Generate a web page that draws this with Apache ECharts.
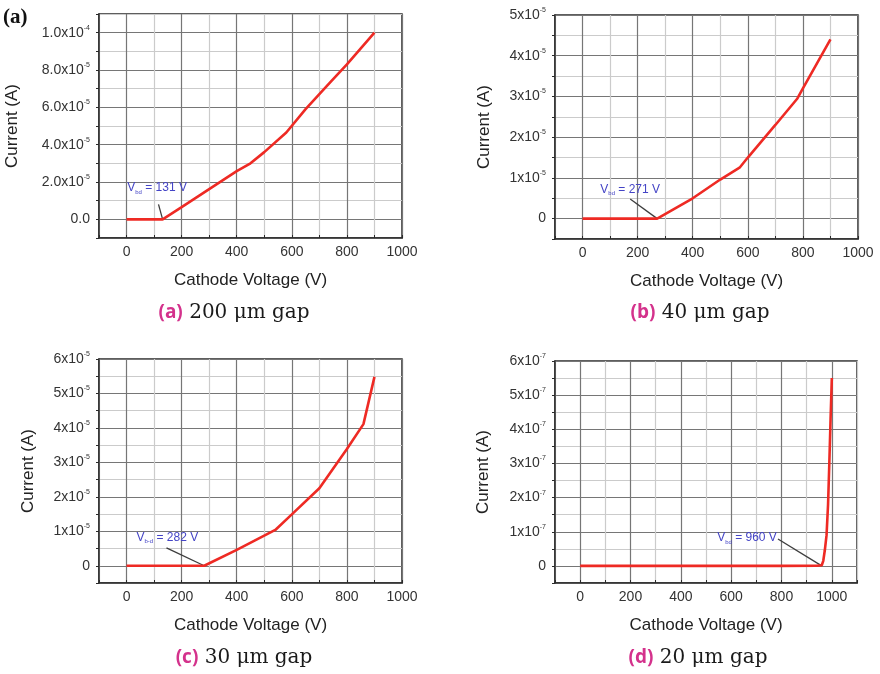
<!DOCTYPE html>
<html>
<head>
<meta charset="utf-8">
<script src="https://cdn.jsdelivr.net/npm/echarts@6/dist/echarts.min.js"></script>
<style>
  html, body { margin: 0; padding: 0; background: #fff; }
  #chart { width: 880px; height: 674px; }
</style>
</head>
<body>
<div id="chart"></div>
<script>
// Cathode voltage (V) vs. current (A) for four electrode gaps
const voltA = [0, 131, 200, 300, 400, 450, 500, 580, 650, 740, 800, 900];
const currA = [0, 0, 0.65e-5, 1.62e-5, 2.58e-5, 3.0e-5, 3.6e-5, 4.65e-5, 5.9e-5, 7.35e-5, 8.3e-5, 1.0e-4];

const voltB = [0, 271, 400, 500, 570, 600, 700, 780, 800, 900];
const currB = [0, 0, 0.5e-5, 0.96e-5, 1.25e-5, 1.5e-5, 2.3e-5, 2.95e-5, 3.2e-5, 4.4e-5];

const voltC = [0, 282, 400, 540, 600, 700, 800, 860, 900];
const currC = [0, 0, 0.46e-5, 1.04e-5, 1.49e-5, 2.25e-5, 3.39e-5, 4.11e-5, 5.48e-5];

const voltD = [0, 200, 400, 600, 800, 940, 960, 966, 972, 979, 985, 990, 995, 1000];
const currD = [0, 0, 0, 0, 0, 0.005e-7, 0.02e-7, 0.15e-7, 0.45e-7, 0.9e-7, 1.8e-7, 3.0e-7, 4.3e-7, 5.5e-7];

// breakdown voltages quoted on each panel
const bdVolt = [131, 271, 282, 960];
const bdSub = ['bd', 'bd', 'b-d', 'bd'];

const captionTags = ['(a)', '(b)', '(c)', '(d)'];
const captionGaps = ['200 \u03bcm gap', '40 \u03bcm gap', '30 \u03bcm gap', '20 \u03bcm gap'];

// tick labels (value / text, "^" marks the exponent)
const xTickVals = [0, 200, 400, 600, 800, 1000];
const yTickA = [0, 2e-5, 4e-5, 6e-5, 8e-5, 1e-4];
const yLabA = ['0.0', '2.0x10^-5', '4.0x10^-5', '6.0x10^-5', '8.0x10^-5', '1.0x10^-4'];
const yTickB = [0, 1e-5, 2e-5, 3e-5, 4e-5, 5e-5];
const yLabB = ['0', '1x10^-5', '2x10^-5', '3x10^-5', '4x10^-5', '5x10^-5'];
const yTickC = [0, 1e-5, 2e-5, 3e-5, 4e-5, 5e-5, 6e-5];
const yLabC = ['0', '1x10^-5', '2x10^-5', '3x10^-5', '4x10^-5', '5x10^-5', '6x10^-5'];
const yTickD = [0, 1e-7, 2e-7, 3e-7, 4e-7, 5e-7, 6e-7];
const yLabD = ['0', '1x10^-7', '2x10^-7', '3x10^-7', '4x10^-7', '5x10^-7', '6x10^-7'];

const FONT = '"Liberation Sans", Arial, sans-serif';
const RED = '#ee2a24';
const MAJOR = '#767676';
const MINOR = '#cbcbcb';
const BLUE = '#4444c6';

function tickLabeler(ticks, labels, step) {
  return function (v) {
    for (let i = 0; i < ticks.length; i++) {
      if (Math.abs(v - ticks[i]) < step * 1e-3) {
        const parts = labels[i].split('^');
        return parts.length > 1 ? '{m|' + parts[0] + '}{s|' + parts[1] + '}' : '{m|' + parts[0] + '}';
      }
    }
    return '';
  };
}

const panels = [
  { grid: { left: 99, top: 14, width: 303, height: 224 }, x: [-100, 1000], y: [-1e-5, 1.1e-4], yStep: 1e-5,
    yTicks: yTickA, yLabs: yLabA, volt: voltA, curr: currA, yGap: 78,
    lineFrom: [116, 0.8e-5], text: [111, 1.68e-5] },
  { grid: { left: 555, top: 15, width: 303, height: 224 }, x: [-100, 1000], y: [-0.5e-5, 5e-5], yStep: 0.5e-5,
    yTicks: yTickB, yLabs: yLabB, volt: voltB, curr: currB, yGap: 62,
    lineFrom: [173, 0.48e-5], text: [173, 0.71e-5] },
  { grid: { left: 99, top: 359, width: 303, height: 224 }, x: [-100, 1000], y: [-0.5e-5, 6e-5], yStep: 0.5e-5,
    yTicks: yTickC, yLabs: yLabC, volt: voltC, curr: currC, yGap: 62,
    lineFrom: [145, 0.52e-5], text: [148, 0.82e-5] },
  { grid: { left: 555, top: 361, width: 302, height: 222 }, x: [-100, 1100], y: [-0.5e-7, 6e-7], yStep: 0.5e-7,
    yTicks: yTickD, yLabs: yLabD, volt: voltD, curr: currD, yGap: 63,
    lineFrom: [786, 0.79e-7], text: [663, 0.82e-7] }
];

const grids = [], xAxes = [], yAxes = [], series = [], graphics = [];

panels.forEach(function (p, i) {
  grids.push(Object.assign({ show: true, borderColor: '#2a2a2a', borderWidth: 1.5, backgroundColor: '#fff' }, p.grid));

  xAxes.push({
    type: 'value', gridIndex: i, min: p.x[0], max: p.x[1], interval: 100,
    name: 'Cathode Voltage (V)', nameLocation: 'middle', nameGap: 34,
    nameTextStyle: { fontFamily: FONT, fontSize: 17, color: '#222' },
    axisLine: { show: true, onZero: false, lineStyle: { color: '#2a2a2a', width: 1.5 } },
    axisTick: { show: true, inside: true, length: 3, lineStyle: { color: '#2a2a2a' } },
    axisLabel: {
      fontFamily: FONT, fontSize: 14, color: '#333', margin: 7, showMinLabel: true, showMaxLabel: true,
      formatter: function (v) { return xTickVals.indexOf(Math.round(v)) >= 0 ? String(Math.round(v)) : ''; }
    },
    splitLine: { show: true, lineStyle: { color: [MINOR, MAJOR], width: 1.2 } }
  });

  yAxes.push({
    type: 'value', gridIndex: i, min: p.y[0], max: p.y[1], interval: p.yStep,
    name: 'Current (A)', nameLocation: 'middle', nameGap: p.yGap,
    nameTextStyle: { fontFamily: FONT, fontSize: 17, color: '#222' },
    axisLine: { show: true, onZero: false, lineStyle: { color: '#2a2a2a', width: 1.5 } },
    axisTick: { show: true, inside: false, length: 3, lineStyle: { color: '#2a2a2a' } },
    axisLabel: {
      margin: 9, showMinLabel: true, showMaxLabel: true,
      formatter: tickLabeler(p.yTicks, p.yLabs, p.yStep),
      rich: {
        m: { fontFamily: FONT, fontSize: 14, color: '#333' },
        s: { fontFamily: FONT, fontSize: 7, color: '#333', padding: [0, 0, 10, 0] }
      }
    },
    splitLine: { show: true, lineStyle: { color: [MINOR, MAJOR], width: 1.2 } }
  });

  series.push({
    type: 'line', xAxisIndex: i, yAxisIndex: i,
    data: p.volt.map(function (v, k) { return [v, p.curr[k]]; }),
    showSymbol: false, symbol: 'none', smooth: false,
    lineStyle: { color: RED, width: 2.6 },
    z: 5,
    markLine: {
      silent: true, symbol: ['none', 'none'],
      lineStyle: { color: '#3d3d3d', width: 1.3, type: 'solid' },
      label: { show: false },
      data: [[{ coord: p.lineFrom }, { coord: [bdVolt[i], 0] }]]
    },
    markPoint: {
      silent: true, symbol: 'circle', symbolSize: 1,
      itemStyle: { color: 'rgba(0,0,0,0)' },
      label: {
        show: true, position: 'inside',
        formatter: '{v|V}{b|' + bdSub[i] + '}{t| = ' + bdVolt[i] + ' V}',
        rich: {
          v: { fontFamily: FONT, fontSize: 12, color: BLUE },
          b: { fontFamily: FONT, fontSize: 6, color: BLUE, padding: [8, 0, 0, 0] },
          t: { fontFamily: FONT, fontSize: 12, color: BLUE }
        }
      },
      data: [{ coord: p.text }]
    }
  });
});

// captions under each panel
const capPos = [[234, 313], [700, 313], [244, 658], [698, 658]];
capPos.forEach(function (c, i) {
  graphics.push({
    type: 'text', x: c[0], y: c[1],
    style: {
      text: '{t|' + captionTags[i] + '}{g| ' + captionGaps[i] + '}',
      align: 'center', verticalAlign: 'middle',
      rich: {
        t: { fontFamily: '"Open Sans", "DejaVu Sans", sans-serif', fontWeight: 'bold', fontSize: 19, fill: '#d4328c' },
        g: { fontFamily: '"DejaVu Serif", serif', fontSize: 20, fill: '#1a1a1a' }
      }
    }
  });
});

graphics.push({
  type: 'text', x: 3, y: 18,
  style: { text: '(a)', fontFamily: '"Liberation Serif", serif', fontWeight: 'bold', fontSize: 21, fill: '#111', verticalAlign: 'middle' }
});

const chart = echarts.init(document.getElementById('chart'), null, { renderer: 'canvas' });
chart.setOption({
  animation: false,
  backgroundColor: '#fff',
  grid: grids,
  xAxis: xAxes,
  yAxis: yAxes,
  series: series,
  graphic: graphics
});
</script>
</body>
</html>
